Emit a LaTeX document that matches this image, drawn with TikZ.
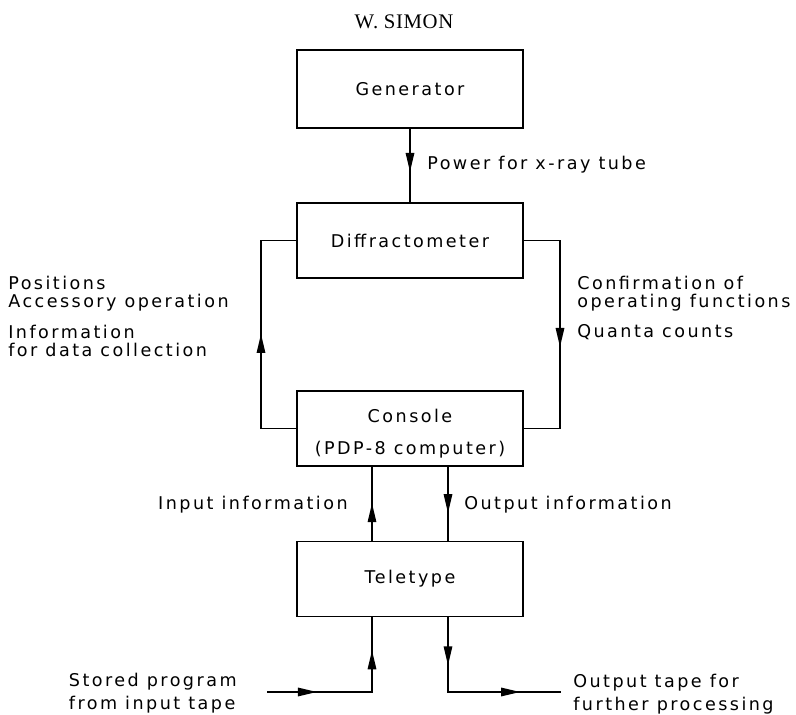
\documentclass[tikz,border=0pt]{standalone}
\usepackage{fontspec}
\usetikzlibrary{arrows.meta,decorations.markings}
\newfontfamily\lettering[LetterSpace=14]{DejaVu Sans}
\newfontfamily\headfont[LetterSpace=3]{Liberation Serif}

\begin{document}
\begin{tikzpicture}[
 box/.style={draw,line width=1.1pt,minimum width=4.52cm,minimum height=1.5cm,inner sep=0pt,
  align=center,font=\lettering\fontsize{10}{10.4}\selectfont},
 lbl/.style={inner sep=0pt,align=left,font=\lettering\fontsize{10}{10.4}\selectfont},
 conn/.style={line width=0.85pt},
 arrowat/.style={postaction={decorate,decoration={markings,
  mark=at position #1 with {\arrow{Triangle[length=0.38cm,width=0.17cm]}}}}}]
\useasboundingbox (0,0) rectangle (15.92,-14.3);
\node[inner sep=0pt,font=\headfont\fontsize{11.8}{12}\selectfont] (head) at (8.08,-0.43) {W. SIMON};
% blocks
\node[box,minimum height=1.56cm] (gen) at (8.2,-1.78) {Generator};
\node[box] (diffr) at (8.2,-4.81) {Diffractometer};
\node[box] (cons) at (8.2,-8.57) {\rule{0pt}{13pt}Console\\[7.8pt](PDP-8 computer)};
\node[box] (tele) at (8.2,-11.58) {Teletype};
\coordinate (lft) at (5.22,0); \coordinate (rgt) at (11.2,0);
\coordinate (tapein) at (5.34,-13.84); \coordinate (tapeout) at (11.22,-13.84);
% connectors
\draw[conn,arrowat=0.587] (gen) -- (diffr);
\draw[conn,arrowat=0.502] (cons.west) -- (cons.west-|lft) -- (diffr.west-|lft) -- (diffr.west);
\draw[conn,arrowat=0.548] (diffr.east) -- (diffr.east-|rgt) -- (cons.east-|rgt) -- (cons.east);
\draw[conn,arrowat=0.507] ([xshift=-0.76cm]tele.north) -- ([xshift=-0.76cm]cons.south);
\draw[conn,arrowat=0.627] ([xshift=0.76cm]cons.south) -- ([xshift=0.76cm]tele.north);
\draw[conn,arrowat=0.278,arrowat=0.817] (tapein) -| ([xshift=-0.76cm]tele.south);
\draw[conn,arrowat=0.255,arrowat=0.782] ([xshift=0.76cm]tele.south) |- (tapeout);
% labels
\node[lbl,anchor=west] (power) at (8.54,-3.3) {Power for x-ray tube};
\node[lbl,anchor=west] (posn) at (0.16,-5.88) {Positions\\Accessory operation};
\node[lbl,anchor=west] (info) at (0.16,-6.82) {Information\\for data collection};
\node[lbl,anchor=west] (confirm) at (11.54,-5.88) {Confirmation of\\operating functions};
\node[lbl,anchor=west] (quanta) at (11.54,-6.64) {Quanta counts};
\node[lbl,anchor=east] (inp) at (6.96,-10.1) {Input information};
\node[lbl,anchor=west] (outp) at (9.28,-10.1) {Output information};
\node[lbl,anchor=east] (stored) at (4.74,-13.87) {Stored program\\[2.7pt]from input tape};
\node[lbl,anchor=west] (otape) at (11.46,-13.89) {Output tape for\\[2.7pt]further processing};
\end{tikzpicture}
\end{document}
